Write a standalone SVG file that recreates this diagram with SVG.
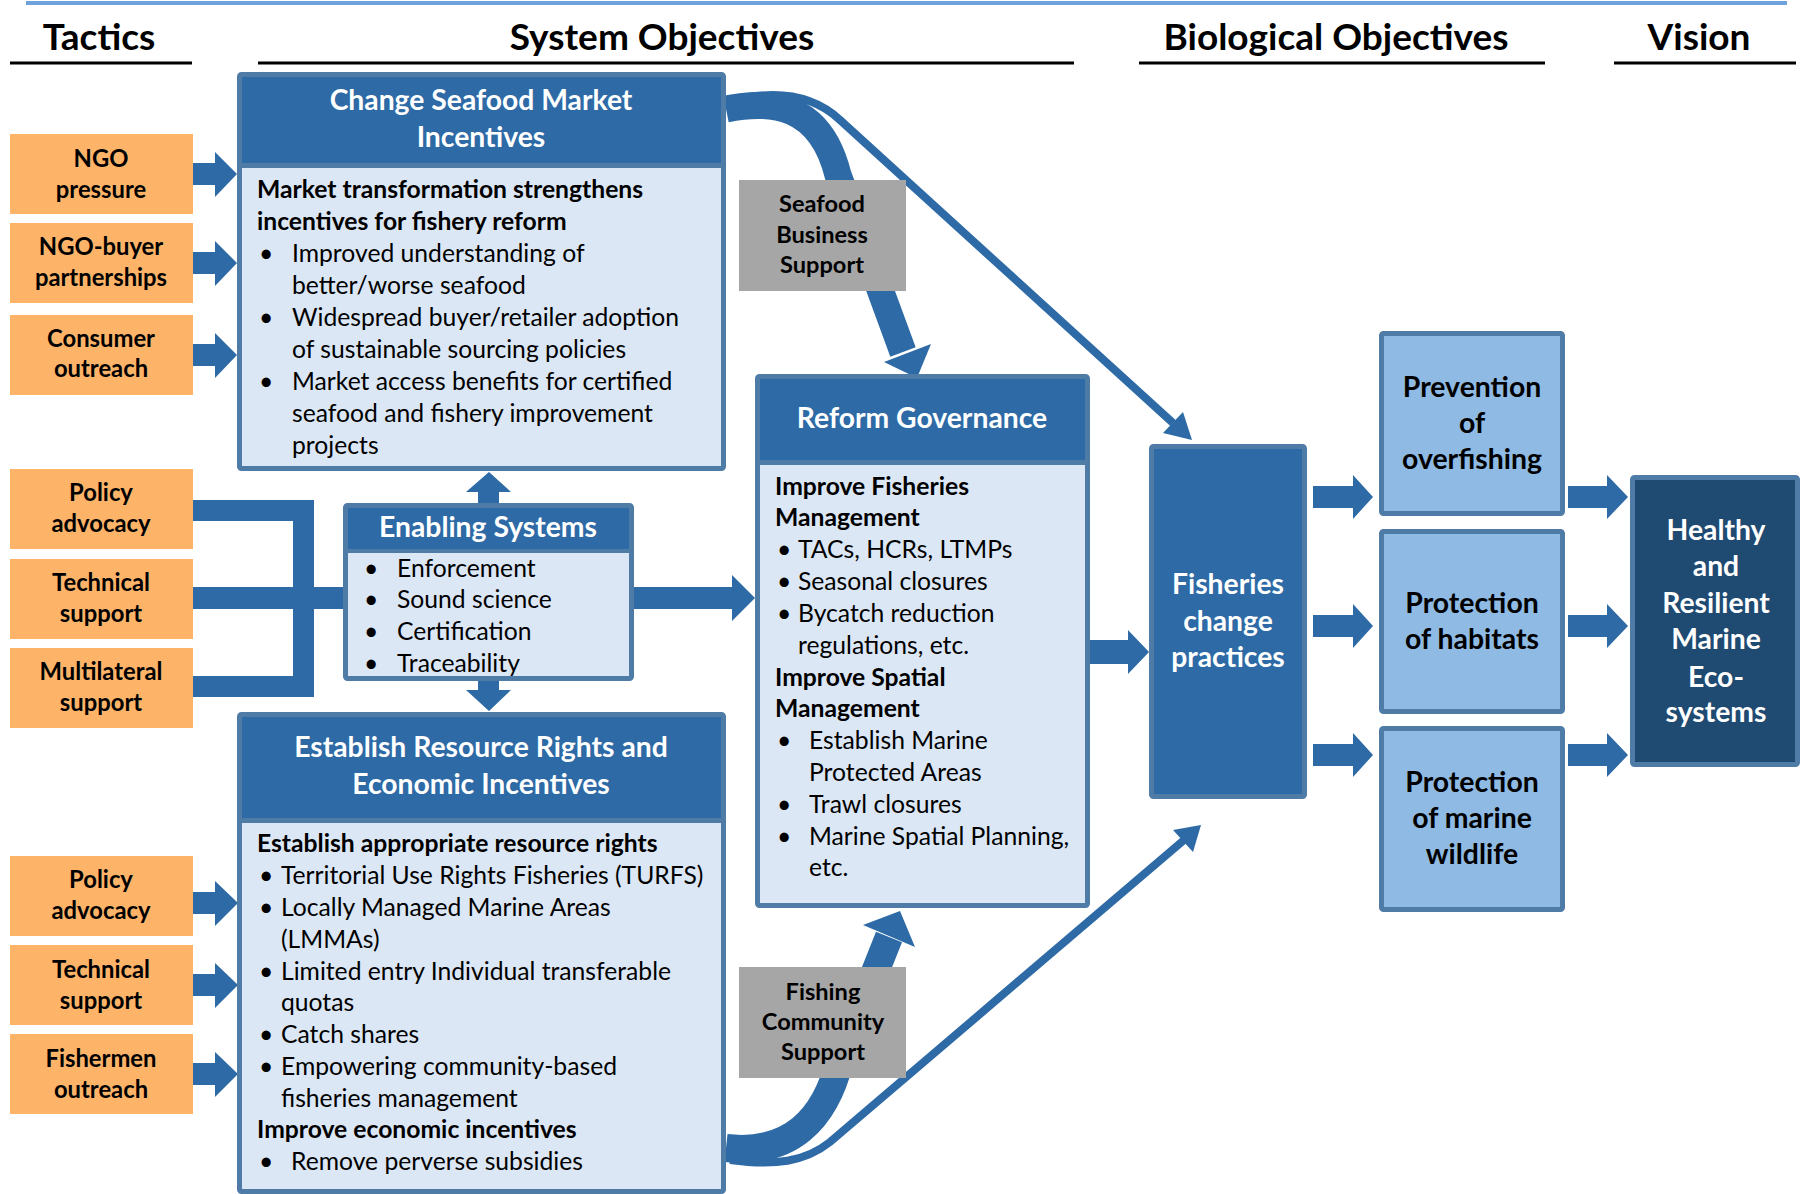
<svg xmlns="http://www.w3.org/2000/svg" width="1801" height="1194" viewBox="0 0 1801 1194">
  <defs>
    <style>
      text { font-family: Lato, "Liberation Sans", sans-serif; }
      .hdr { font-size: 37px; font-weight: 700; fill: #000; text-anchor: middle; }
      .rule { stroke: #000; stroke-width: 3; }
      .tac rect { fill: #FDB469; }
      .tac text { font-size: 23.8px; font-weight: 700; fill: #000; text-anchor: middle; }
      .frame { stroke: #4F7CA6; stroke-width: 5; }
      .head { fill: #2D6AA6; }
      .body { fill: #DBE7F4; }
      .sep { fill: #4F7CA6; }
      .ttl { font-size: 28.3px; font-weight: 700; fill: #fff; text-anchor: middle; }
      .t { font-size: 24.7px; fill: #000; }
      .tb { font-size: 24.7px; font-weight: 700; fill: #000; }
      .gray rect { fill: #A6A6A6; }
      .gray text { font-size: 23.6px; font-weight: 700; fill: #000; text-anchor: middle; }
      .bio rect { fill: #8EBAE3; stroke: #4F7CA6; stroke-width: 5; }
      .bio text { font-size: 28.4px; font-weight: 700; fill: #000; text-anchor: middle; }
      .arr { fill: #2D6AA6; }
      .curve { fill: none; stroke: #2D6AA6; }
    </style>
  </defs>

  <rect width="1801" height="1194" fill="#fff"/>

  <!-- top rule -->
  <line x1="26" y1="3" x2="1787" y2="3" stroke="#6FA2DA" stroke-width="4"/>

  <!-- column headings -->
  <g id="headings">
    <text class="hdr" x="99" y="50">Tactics</text>
    <line class="rule" x1="10" y1="63" x2="192" y2="63"/>
    <text class="hdr" x="662" y="50">System Objectives</text>
    <line class="rule" x1="258" y1="63" x2="1074" y2="63"/>
    <text class="hdr" x="1336" y="50">Biological Objectives</text>
    <line class="rule" x1="1139" y1="63" x2="1545" y2="63"/>
    <text class="hdr" x="1699" y="50">Vision</text>
    <line class="rule" x1="1614" y1="63" x2="1796" y2="63"/>
  </g>

  <!-- connectors -->
  <g id="connectors">
    <!-- tactics to market incentives -->
    <polygon class="arr" points="193,163 215,163 215,152 237,174 215,197 215,185 193,185"/>
    <polygon class="arr" points="193,252 215,252 215,241 237,263 215,286 215,274 193,274"/>
    <polygon class="arr" points="193,344 215,344 215,333 237,355 215,378 215,366 193,366"/>
    <!-- tactics to resource rights -->
    <polygon class="arr" points="193,892 215,892 215,881 238,903 215,926 215,914 193,914"/>
    <polygon class="arr" points="193,974 215,974 215,963 238,985 215,1008 215,996 193,996"/>
    <polygon class="arr" points="193,1063 215,1063 215,1052 238,1074 215,1097 215,1085 193,1085"/>
    <!-- bracket into enabling systems -->
    <rect class="arr" x="193" y="500" width="121" height="21"/>
    <rect class="arr" x="293" y="500" width="21" height="197"/>
    <rect class="arr" x="193" y="676" width="121" height="21"/>
    <rect class="arr" x="193" y="587" width="150" height="22"/>
    <!-- enabling systems up / down -->
    <polygon class="arr" points="478,503 478,492 466,492 489,472 511,492 499,492 499,503"/>
    <polygon class="arr" points="478,681 478,690 466,690 489,711 511,690 499,690 499,681"/>
    <!-- enabling systems to reform governance -->
    <polygon class="arr" points="634,587 732,587 732,575 755,598 732,621 732,609 634,609"/>
    <!-- reform governance to fisheries practices -->
    <polygon class="arr" points="1090,640 1128,640 1128,630 1149,652 1128,674 1128,664 1090,664"/>
    <!-- fisheries practices to biological objectives -->
    <polygon class="arr" points="1313,486 1353,486 1353,475 1373,497 1353,519 1353,508 1313,508"/>
    <polygon class="arr" points="1313,615 1353,615 1353,604 1373,626 1353,648 1353,637 1313,637"/>
    <polygon class="arr" points="1313,744 1353,744 1353,733 1373,755 1353,777 1353,766 1313,766"/>
    <!-- biological objectives to vision -->
    <polygon class="arr" points="1568,486 1607,486 1607,475 1628,497 1607,519 1607,508 1568,508"/>
    <polygon class="arr" points="1568,615 1607,615 1607,604 1628,626 1607,648 1607,637 1568,637"/>
    <polygon class="arr" points="1568,744 1607,744 1607,733 1628,755 1607,777 1607,766 1568,766"/>

    <!-- market incentives: thick curve to reform governance -->
    <path class="curve" stroke-width="27" d="M726,109 C770,100 820,103 838,175 L903,352"/>
    <polygon class="arr" points="884,362 931,344 917,378"/>
    <!-- market incentives: thin line to fisheries practices -->
    <path class="curve" stroke-width="8" d="M726,102 C770,90 810,92 840,120 L1173,423"/>
    <polygon class="arr" points="1163,433 1183,412 1192,440"/>

    <!-- resource rights: thick curve to reform governance -->
    <path class="curve" stroke-width="28" d="M726,1148 C790,1155 825,1120 840,1060 L889,937"/>
    <polygon class="arr" points="863,925 915,947 900,911"/>
    <!-- resource rights: thin line to fisheries practices -->
    <path class="curve" stroke-width="8" d="M730,1160 C775,1166 805,1162 830,1142 L1184,840"/>
    <polygon class="arr" points="1173,830 1193,852 1201,825"/>
  </g>

  <!-- tactics -->
  <g id="tac-ngo-pressure" class="tac">
    <rect x="10" y="134" width="183" height="80"/>
    <text x="101" y="167">NGO</text>
    <text x="101" y="198">pressure</text>
  </g>
  <g id="tac-ngo-buyer" class="tac">
    <rect x="10" y="223" width="183" height="80"/>
    <text x="101" y="255">NGO-buyer</text>
    <text x="101" y="286">partnerships</text>
  </g>
  <g id="tac-consumer" class="tac">
    <rect x="10" y="315" width="183" height="80"/>
    <text x="101" y="347">Consumer</text>
    <text x="101" y="377">outreach</text>
  </g>
  <g id="tac-policy-1" class="tac">
    <rect x="10" y="469" width="183" height="80"/>
    <text x="101" y="501">Policy</text>
    <text x="101" y="532">advocacy</text>
  </g>
  <g id="tac-technical-1" class="tac">
    <rect x="10" y="559" width="183" height="80"/>
    <text x="101" y="591">Technical</text>
    <text x="101" y="622">support</text>
  </g>
  <g id="tac-multilateral" class="tac">
    <rect x="10" y="648" width="183" height="80"/>
    <text x="101" y="680">Multilateral</text>
    <text x="101" y="711">support</text>
  </g>
  <g id="tac-policy-2" class="tac">
    <rect x="10" y="856" width="183" height="80"/>
    <text x="101" y="888">Policy</text>
    <text x="101" y="919">advocacy</text>
  </g>
  <g id="tac-technical-2" class="tac">
    <rect x="10" y="945" width="183" height="80"/>
    <text x="101" y="978">Technical</text>
    <text x="101" y="1009">support</text>
  </g>
  <g id="tac-fishermen" class="tac">
    <rect x="10" y="1034" width="183" height="80"/>
    <text x="101" y="1067">Fishermen</text>
    <text x="101" y="1098">outreach</text>
  </g>

  <!-- system objectives -->
  <g id="market-incentives">
    <rect class="body frame" x="239.5" y="74.5" width="484" height="394" rx="2"/>
    <rect class="head" x="242" y="77" width="479" height="86"/>
    <rect class="sep" x="242" y="163" width="479" height="5"/>
    <text class="ttl" x="481" y="110">Change Seafood Market</text>
    <text class="ttl" x="481" y="147">Incentives</text>
    <text class="tb" x="257" y="198">Market transformation strengthens</text>
    <text class="tb" x="257" y="230">incentives for fishery reform</text>
    <text class="t" x="259" y="262">•</text>
    <text class="t" x="292" y="262">Improved understanding of</text>
    <text class="t" x="292" y="294">better/worse seafood</text>
    <text class="t" x="259" y="326">•</text>
    <text class="t" x="292" y="326">Widespread buyer/retailer adoption</text>
    <text class="t" x="292" y="358">of sustainable sourcing policies</text>
    <text class="t" x="259" y="390">•</text>
    <text class="t" x="292" y="390">Market access benefits for certified</text>
    <text class="t" x="292" y="422">seafood and fishery improvement</text>
    <text class="t" x="292" y="454">projects</text>
  </g>

  <g id="seafood-business-support" class="gray">
    <rect x="739" y="180" width="167" height="111"/>
    <text x="822" y="212">Seafood</text>
    <text x="822" y="243">Business</text>
    <text x="822" y="273">Support</text>
  </g>

  <g id="enabling-systems">
    <rect class="body frame" x="345.5" y="505.5" width="286" height="173" rx="2"/>
    <rect class="head" x="348" y="508" width="281" height="41"/>
    <rect class="sep" x="348" y="549" width="281" height="4"/>
    <text class="ttl" x="488" y="537">Enabling Systems</text>
    <text class="t" x="364" y="577">•</text>
    <text class="t" x="397" y="577">Enforcement</text>
    <text class="t" x="364" y="608">•</text>
    <text class="t" x="397" y="608">Sound science</text>
    <text class="t" x="364" y="640">•</text>
    <text class="t" x="397" y="640">Certification</text>
    <text class="t" x="364" y="672">•</text>
    <text class="t" x="397" y="672">Traceability</text>
  </g>

  <g id="resource-rights">
    <rect class="body frame" x="239.5" y="714.5" width="484" height="477" rx="2"/>
    <rect class="head" x="242" y="717" width="479" height="101"/>
    <rect class="sep" x="242" y="818" width="479" height="5"/>
    <text class="ttl" x="481" y="757">Establish Resource Rights and</text>
    <text class="ttl" x="481" y="794">Economic Incentives</text>
    <text class="tb" x="257" y="852">Establish appropriate resource rights</text>
    <text class="t" x="259" y="884">•</text>
    <text class="t" x="281" y="884">Territorial Use Rights Fisheries (TURFS)</text>
    <text class="t" x="259" y="916">•</text>
    <text class="t" x="281" y="916">Locally Managed Marine Areas</text>
    <text class="t" x="281" y="948">(LMMAs)</text>
    <text class="t" x="259" y="980">•</text>
    <text class="t" x="281" y="980">Limited entry Individual transferable</text>
    <text class="t" x="281" y="1011">quotas</text>
    <text class="t" x="259" y="1043">•</text>
    <text class="t" x="281" y="1043">Catch shares</text>
    <text class="t" x="259" y="1075">•</text>
    <text class="t" x="281" y="1075">Empowering community-based</text>
    <text class="t" x="281" y="1107">fisheries management</text>
    <text class="tb" x="257" y="1138">Improve economic incentives</text>
    <text class="t" x="259" y="1170">•</text>
    <text class="t" x="291" y="1170">Remove perverse subsidies</text>
  </g>

  <g id="fishing-community-support" class="gray">
    <rect x="739" y="967" width="167" height="111"/>
    <text x="823" y="1000">Fishing</text>
    <text x="823" y="1030">Community</text>
    <text x="823" y="1060">Support</text>
  </g>

  <g id="reform-governance">
    <rect class="body frame" x="757.5" y="376.5" width="330" height="529" rx="2"/>
    <rect class="head" x="760" y="379" width="325" height="81"/>
    <rect class="sep" x="760" y="460" width="325" height="5"/>
    <text class="ttl" x="922" y="428">Reform Governance</text>
    <text class="tb" x="775" y="495">Improve Fisheries</text>
    <text class="tb" x="775" y="526">Management</text>
    <text class="t" x="777" y="558">•</text>
    <text class="t" x="798" y="558">TACs, HCRs, LTMPs</text>
    <text class="t" x="777" y="590">•</text>
    <text class="t" x="798" y="590">Seasonal closures</text>
    <text class="t" x="777" y="622">•</text>
    <text class="t" x="798" y="622">Bycatch reduction</text>
    <text class="t" x="798" y="654">regulations, etc.</text>
    <text class="tb" x="775" y="686">Improve Spatial</text>
    <text class="tb" x="775" y="717">Management</text>
    <text class="t" x="777" y="749">•</text>
    <text class="t" x="809" y="749">Establish Marine</text>
    <text class="t" x="809" y="781">Protected Areas</text>
    <text class="t" x="777" y="813">•</text>
    <text class="t" x="809" y="813">Trawl closures</text>
    <text class="t" x="777" y="845">•</text>
    <text class="t" x="809" y="845">Marine Spatial Planning,</text>
    <text class="t" x="809" y="876">etc.</text>
  </g>

  <g id="fisheries-change-practices">
    <rect x="1151.5" y="446.5" width="153" height="350" rx="2" fill="#2D6AA6" stroke="#4F7CA6" stroke-width="5"/>
    <text class="ttl" x="1228" y="594">Fisheries</text>
    <text class="ttl" x="1228" y="631">change</text>
    <text class="ttl" x="1228" y="667">practices</text>
  </g>

  <!-- biological objectives -->
  <g id="prevent-overfishing" class="bio">
    <rect x="1381.5" y="333.5" width="181" height="180" rx="2"/>
    <text x="1472" y="397">Prevention</text>
    <text x="1472" y="433">of</text>
    <text x="1472" y="469">overfishing</text>
  </g>
  <g id="protect-habitats" class="bio">
    <rect x="1381.5" y="531.5" width="181" height="180" rx="2"/>
    <text x="1472" y="613">Protection</text>
    <text x="1472" y="649">of habitats</text>
  </g>
  <g id="protect-wildlife" class="bio">
    <rect x="1381.5" y="728.5" width="181" height="181" rx="2"/>
    <text x="1472" y="792">Protection</text>
    <text x="1472" y="828">of marine</text>
    <text x="1472" y="864">wildlife</text>
  </g>

  <!-- vision -->
  <g id="vision-healthy-ecosystems">
    <rect x="1632.5" y="477.5" width="165" height="287" rx="2" fill="#1F4A72" stroke="#4F7CA6" stroke-width="5"/>
    <text class="ttl" x="1716" y="540">Healthy</text>
    <text class="ttl" x="1716" y="576">and</text>
    <text class="ttl" x="1716" y="613">Resilient</text>
    <text class="ttl" x="1716" y="649">Marine</text>
    <text class="ttl" x="1716" y="687">Eco-</text>
    <text class="ttl" x="1716" y="722">systems</text>
  </g>
</svg>
